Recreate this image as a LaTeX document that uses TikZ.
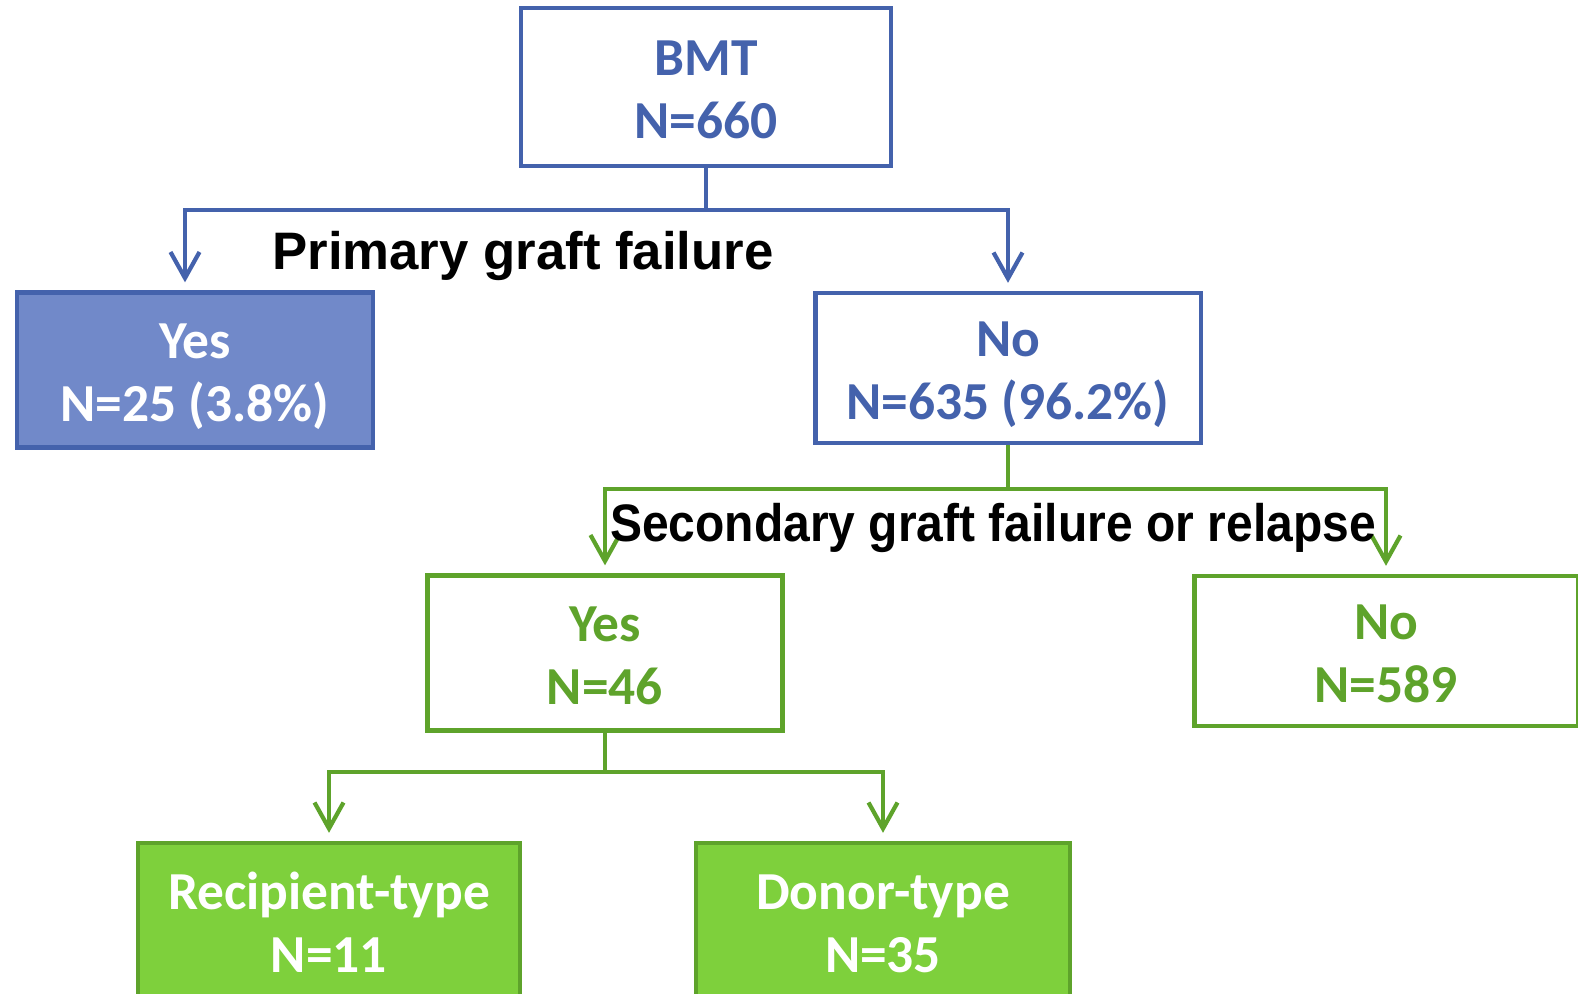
\documentclass[tikz,border=0pt]{standalone}
\usepackage{fontspec}
\setmainfont{Carlito}
\newfontfamily\labelfont{Liberation Sans}
\usepackage{graphicx}
\usepackage{tikz}
\usetikzlibrary{arrows.meta,positioning,calc}
\usepackage{xcolor}
\definecolor{bmtblue}{HTML}{4462AC}
\definecolor{bmtfill}{HTML}{7189C9}
\definecolor{relgreen}{HTML}{5EA32B}
\definecolor{relfill}{HTML}{7ED03C}
\newcommand{\twolines}[2]{\raisebox{0pt}[10pt][16.7pt]{\begin{tabular}[t]{@{}c@{}}#1\\#2\end{tabular}}}

\begin{document}
\begin{tikzpicture}[x=0.01cm,y=-0.01cm,
    box/.style={draw,line width=1.2pt,inner sep=0pt,
      font=\bfseries\fontsize{15.2}{17.9}\selectfont},
    bluebox/.style={box,bmtblue,text=bmtblue},
    bluefill/.style={box,bmtblue,fill=bmtfill,text=white},
    greenbox/.style={box,relgreen,text=relgreen},
    greenfill/.style={box,relgreen,fill=relfill,text=white},
    branch/.style={line width=1.2pt,line join=miter},
    tip/.style={branch,-{Straight Barb[length=2.6mm,width=2.9mm,line width=1.2pt]},shorten >=0.08cm},
    splitlabel/.style={font=\labelfont\bfseries\fontsize{15}{18}\selectfont,inner sep=0pt}]
  \useasboundingbox (0,0) rectangle (1578,994);
  \clip (0,0) rectangle (1578,994);
  % first split
  \node[bluebox,minimum width=3.70cm,minimum height=1.58cm] (bmt) at (706,87) {\twolines{BMT}{N=660}};
  \node[bluefill,minimum width=3.56cm,minimum height=1.55cm] (pyes) at (195,370) {\twolines{Yes}{N=25 (3.8\%)}};
  \node[bluebox,minimum width=3.85cm,minimum height=1.50cm] (pno) at (1008,368) {\twolines{No}{N=635 (96.2\%)}};
  \coordinate (pjoin) at ($(bmt.south)+(0,42)$);
  \coordinate (pyestop) at ($(pyes.north)+(-10,0)$);
  \draw[branch,bmtblue] (bmt.south) -- (pjoin);
  \draw[tip,bmtblue] (pjoin) -| (pyestop);
  \draw[tip,bmtblue] (pjoin) -| (pno.north);
  \node[splitlabel] (plabel) at (523,256) {Primary graft failure};
  % second split
  \node[greenbox,minimum width=3.55cm,minimum height=1.55cm] (syes) at (605,653) {\twolines{Yes}{N=46}};
  \node[greenbox,minimum width=3.83cm,minimum height=1.50cm] (sno) at (1386,651) {\twolines{No}{N=589}};
  \coordinate (sjoin) at ($(pno.south)+(0,44)$);
  \draw[branch,relgreen] (pno.south) -- (sjoin);
  \draw[tip,relgreen] (sjoin) -| (syes.north);
  \draw[tip,relgreen] (sjoin) -| (sno.north);
  \node[splitlabel] (slabel) at (993,528) {\scalebox{0.91}[1]{Secondary graft failure or relapse}};
  % third split
  \node[greenfill,minimum width=3.82cm,minimum height=1.56cm] (recip) at (329,921) {\twolines{Recipient-type}{N=11}};
  \node[greenfill,minimum width=3.74cm,minimum height=1.56cm] (donor) at (883,921) {\twolines{Donor-type}{N=35}};
  \coordinate (tjoin) at ($(syes.south)+(0,39)$);
  \draw[branch,relgreen] (syes.south) -- (tjoin);
  \draw[tip,relgreen] (tjoin) -| (recip.north);
  \draw[tip,relgreen] (tjoin) -| (donor.north);
\end{tikzpicture}
\end{document}
